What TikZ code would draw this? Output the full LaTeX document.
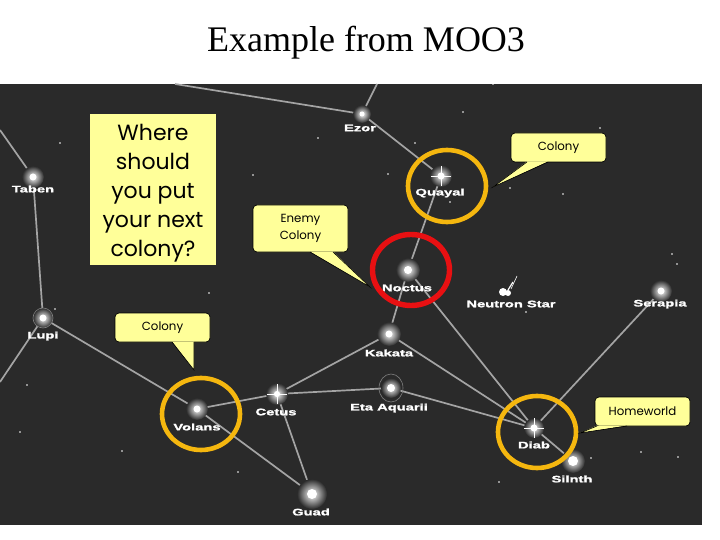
\documentclass[tikz,border=0pt]{standalone}
\usepackage{fontspec}
\setmainfont{Liberation Serif}
\newfontfamily\starfont[FakeStretch=1.55,FakeBold=1.5]{Liberation Sans Bold}
\newfontfamily\notefont{Poppins}
\definecolor{spacebg}{HTML}{2A2A2A}
\definecolor{laneline}{HTML}{A4A4A4}
\definecolor{notefill}{HTML}{FFFF99}
\definecolor{ringorange}{HTML}{F5B70F}
\definecolor{ringred}{HTML}{E81012}
\tikzset{
  lane/.style={draw=laneline,line width=1.7pt},
  starname/.style={text=white,font=\starfont\fontsize{9.5}{10}\selectfont,inner sep=0pt},
  glow/.style={inner color=white,outer color=spacebg},
  colonyring/.style={draw=ringorange,line width=4.6pt},
  enemyring/.style={draw=ringred,line width=5.4pt},
  bubble/.style={draw=black,line width=0.7pt,fill=notefill,rounded corners=4pt,inner sep=0pt,
    align=center,font=\notefont\fontsize{11.8}{17}\selectfont},
  tailfill/.style={fill=notefill},
  tailedge/.style={draw=black,line width=0.6pt}
}
\begin{document}
\begin{tikzpicture}[x=1pt,y=-1pt]
\useasboundingbox (0,0) rectangle (720,540);

\node[font=\fontsize{36}{40}\selectfont,inner sep=0pt] (title) at (366,43) {Example from MOO3};

\fill[spacebg] (0,84) rectangle (702,525);

\foreach \nm/\px/\py in {ezor/362/114,quayal/441/176,noctus/408/270,serapia/661/291,taben/33/177,lupi/43/318,
  volans/197/409,cetus/277/394,guad/312/494,kakata/389/334,eta/391/388,diab/534/428,silnth/573/461}
  \coordinate (\nm) at (\px,\py);
\coordinate (topleft) at (175,84);
\coordinate (topright) at (377,84);
\coordinate (leftup) at (0,130);
\coordinate (leftdown) at (0,382);

\draw[lane] (topleft) -- (ezor) -- (quayal) -- (noctus) -- (kakata) -- (cetus) -- (eta) -- (diab);
\draw[lane] (topright) -- (ezor);
\draw[lane] (noctus) -- (diab) -- (kakata);
\draw[lane] (cetus) -- (volans) -- (guad) -- (cetus);
\draw[lane] (leftup) -- (taben) -- (lupi) -- (volans);
\draw[lane] (lupi) -- (leftdown);
\draw[lane] (serapia) -- (diab) -- (silnth);

\foreach \px/\py in {60/143,318/138,253/175,209/293,463/112,493/84,600/128,415/143,388/174,563/194,
  510/188,672/254,677/264,450/202,27/385,20/432,122/451,238/472,55/309,322/498,641/452,678/457,
  591/458,499/482,526/312}
  \fill[white] (\px,\py) circle (0.9);

\foreach \nm/\r/\c in {ezor/9/2.5,noctus/12/4,serapia/11/3.5,taben/11/3.5,lupi/10/3.5,volans/11/3.5,cetus/11/3,
  guad/15/5,kakata/12/3.5,eta/10/4,silnth/12/5,quayal/11/3.5,diab/10/3.5}{
  \shade[glow] (\nm) circle (\r);
  \fill[white] (\nm) circle (\c);
}
\draw[gray,line width=0.6pt] (lupi) circle (10);
\draw[gray,line width=0.6pt] (eta) ellipse (12 and 14);
\foreach \nm in {quayal,diab,cetus}{
  \draw[white,line width=0.6pt] ([xshift=-10pt]\nm) -- ([xshift=10pt]\nm);
  \draw[white,line width=0.6pt] ([yshift=-10pt]\nm) -- ([yshift=10pt]\nm);
}

\fill[white] (503,292) circle (4);
\fill[white] (508,293) circle (3);
\draw[white,line width=1.2pt] (508,290) -- (513,282);
\draw[white,line width=0.6pt] (511,289) -- (517,276);

\node[starname] (ezorname) at (360,128) {Ezor};
\node[starname] (quayalname) at (440,193) {Quayal};
\node[starname] (noctusname) at (407,288) {Noctus};
\node[starname] (neutronname) at (511,304) {Neutron Star};
\node[starname] (serapianame) at (660,304) {Serapia};
\node[starname] (tabenname) at (33,189) {Taben};
\node[starname] (lupiname) at (43,336) {Lupi};
\node[starname] (volansname) at (197,427) {Volans};
\node[starname] (cetusname) at (276,412) {Cetus};
\node[starname] (guadname) at (311,512) {Guad};
\node[starname] (kakataname) at (389,353) {Kakata};
\node[starname] (etaname) at (389,408) {Eta Aquarii};
\node[starname] (diabname) at (534,445) {Diab};
\node[starname] (silnthname) at (572,479) {Silnth};

\draw[colonyring] (447,186) ellipse (39 and 36);
\draw[colonyring] (201,414) ellipse (39 and 36);
\draw[colonyring] (537,432) ellipse (39 and 36);
\draw[enemyring] (411,270) ellipse (38.5 and 35.5);

\fill[notefill] (90,114) rectangle (216,265);
\node[inner sep=0pt,align=center,font=\notefont\fontsize{22}{29}\selectfont] (question) at (153,193)
  {Where\\should\\you put\\your next\\colony?};

\coordinate (enemytip) at (370,287);
\coordinate (questtip) at (493,187);
\coordinate (volanstip) at (194,370);
\coordinate (hometip) at (580,433);

\node[bubble,minimum width=95pt,minimum height=47pt] (enemynote) at (300.5,228.5) {Enemy\\Colony};
\node[bubble,minimum width=95pt,minimum height=29pt] (quayalnote) at (558.5,147.5) {Colony};
\node[bubble,minimum width=95pt,minimum height=29pt] (volansnote) at (162.5,327.5) {Colony};
\node[bubble,minimum width=95pt,minimum height=29pt] (homenote) at (642.5,411.5) {Homeworld};

\fill[tailfill] (310,251.5) -- (enemytip) -- (333,251.5) -- cycle;
\draw[tailedge] (310,252) -- (enemytip) -- (333,252);
\fill[tailfill] (527,161.5) -- (questtip) -- (548,161.5) -- cycle;
\draw[tailedge] (527,162) -- (questtip) -- (548,162);
\fill[tailfill] (172,341.5) -- (volanstip) -- (194,341.5) -- cycle;
\draw[tailedge] (172,342) -- (volanstip) -- (194,342);
\fill[tailfill] (597,425.5) -- (hometip) -- (627,425.5) -- cycle;
\draw[tailedge] (597,426) -- (hometip) -- (627,426);
\end{tikzpicture}
\end{document}
